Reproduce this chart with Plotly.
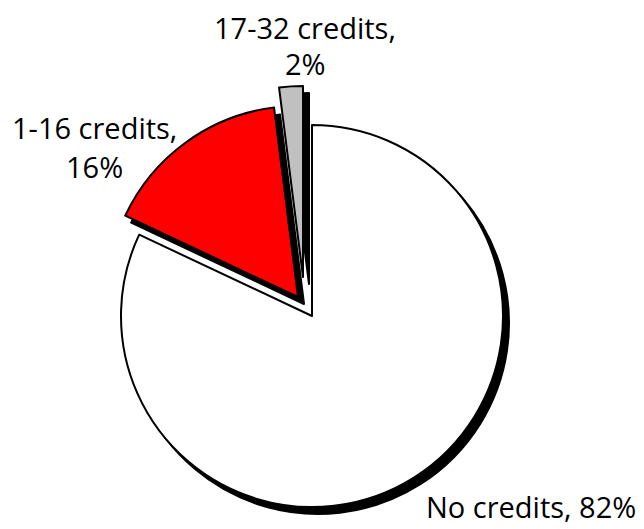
import plotly.graph_objects as go

# ---- data ----
categories = ["No credits", "1-16 credits", "17-32 credits"]
percents = [82, 16, 2]
slice_colors = ["#FFFFFF", "#FF0000", "#C0C0C0"]

# ---- layout geometry (page pixels) ----
PAGE_OFF = 8                      # default body margin of the html page
W, H = 644 - PAGE_OFF, 529 - PAGE_OFF
CX, CY, R = 312, 316, 191
explode = [(0, 0), (-14, -19), (-9, -39)]   # pixel shift of each exploded slice
SHADOW = (6, 7)


def domain(cx, cy, r):
    cx -= PAGE_OFF
    cy -= PAGE_OFF
    return dict(x=[(cx - r) / W, (cx + r) / W],
                y=[(H - cy - r) / H, (H - cy + r) / H])


fig = go.Figure()
for i in range(len(categories)):
    for is_shadow in (True, False):
        dx, dy = explode[i]
        if is_shadow:
            dx += SHADOW[0]
            dy += SHADOW[1]
        cols = ["rgba(0,0,0,0)"] * len(categories)
        cols[i] = "#000000" if is_shadow else slice_colors[i]
        widths = [0] * len(categories)
        widths[i] = 2
        fig.add_trace(go.Pie(
            labels=categories,
            values=percents,
            sort=False,
            direction="clockwise",
            rotation=0,
            marker=dict(colors=cols, line=dict(color="#000000", width=widths)),
            textinfo="none",
            hoverinfo="skip",
            showlegend=False,
            domain=domain(CX + dx, CY + dy, R),
        ))

FONT = dict(family="Open Sans, Noto Sans, sans-serif", size=29, color="#000000")


def px(x, y):
    return (x - PAGE_OFF) / W, 1 - (y - PAGE_OFF) / H


annotations = []
# No credits label (single line)
x, y = px(531, 506)
annotations.append(dict(x=x, y=y, xref="paper", yref="paper", showarrow=False,
                        text=f"{categories[0]}, {percents[0]}%", font=FONT,
                        xanchor="center", yanchor="middle"))
# two-line labels
label_pos = {1: (94, 128, 166), 2: (305, 27, 64)}
for i, (lx, y1, y2) in label_pos.items():
    for txt, ly in ((f"{categories[i]},", y1), (f"{percents[i]}%", y2)):
        x, y = px(lx, ly)
        annotations.append(dict(x=x, y=y, xref="paper", yref="paper", showarrow=False,
                                text=txt, font=FONT, xanchor="center", yanchor="middle"))

fig.update_layout(
    width=W, height=H,
    margin=dict(l=0, r=0, t=0, b=0),
    paper_bgcolor="#FFFFFF",
    plot_bgcolor="#FFFFFF",
    annotations=annotations,
)

fig.write_html("out.html")
